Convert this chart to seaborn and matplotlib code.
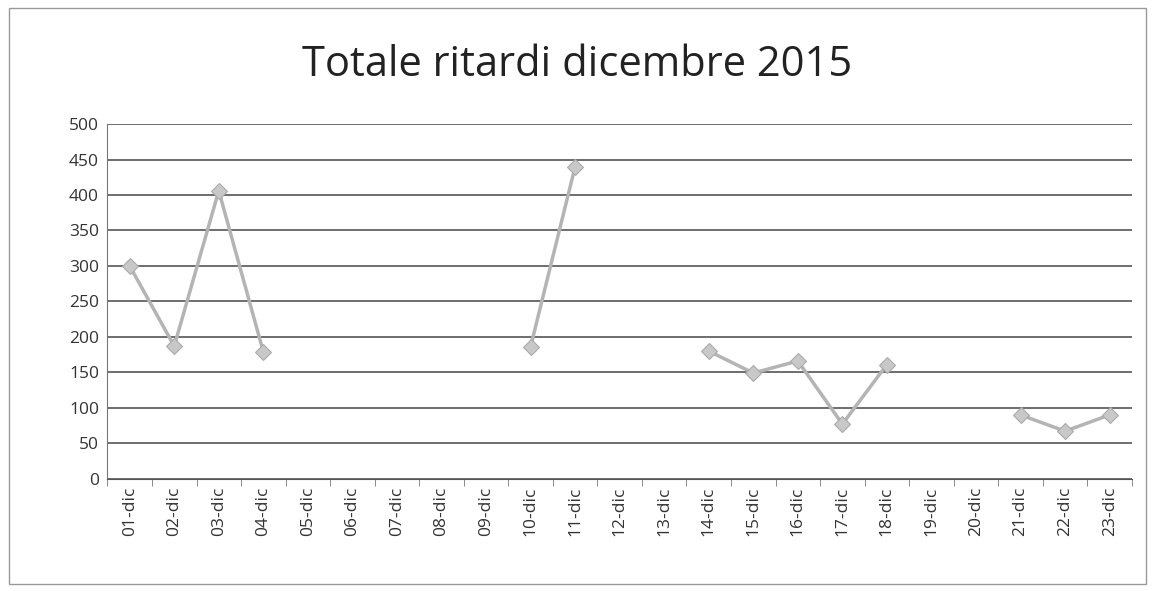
import numpy as np
import pandas as pd
import seaborn as sns
import matplotlib.pyplot as plt

# dati (NaN = giorno senza valore)
giorni = ["01-dic", "02-dic", "03-dic", "04-dic", "05-dic", "06-dic", "07-dic", "08-dic",
          "09-dic", "10-dic", "11-dic", "12-dic", "13-dic", "14-dic", "15-dic", "16-dic",
          "17-dic", "18-dic", "19-dic", "20-dic", "21-dic", "22-dic", "23-dic"]
ritardi = [300, 187, 406, 179, np.nan, np.nan, np.nan, np.nan,
           np.nan, 186, 440, np.nan, np.nan, 180, 149, 166,
           77, 161, np.nan, np.nan, 90, 67, 90]

df = pd.DataFrame({"pos": np.arange(len(giorni)), "giorno": giorni, "ritardi": ritardi})
# segmenti contigui, così la linea si interrompe dove mancano i dati
df["seg"] = df["ritardi"].isna().cumsum()
df = df.dropna()

sns.set_style("white")
plt.rcParams['font.family'] = ['Open Sans', 'DejaVu Sans']

fig, ax = plt.subplots(figsize=(11.55, 5.91), dpi=100)
fig.subplots_adjust(left=0.093, right=0.98, top=0.79, bottom=0.19)

sns.lineplot(data=df, x="pos", y="ritardi", units="seg", estimator=None, ax=ax,
             color="#b4b4b4", linewidth=2.5, marker="D", markersize=8,
             markeredgecolor="#a8a8a8", markerfacecolor="#c8c8c8")

ax.set_xlim(-0.5, len(giorni) - 0.5)
ax.set_ylim(0, 500)
ax.set_yticks(range(0, 501, 50))
ax.set_xticks(range(len(giorni)))
ax.set_xticklabels(giorni, rotation=90)
ax.tick_params(axis="both", labelsize=12.5, colors="#333333", length=0, pad=6)
ax.set_xticks(np.arange(-0.5, len(giorni), 1), minor=True)
ax.tick_params(axis="x", which="minor", length=5, color="#777777", bottom=True)
ax.tick_params(axis="x", which="major", length=0)
ax.grid(axis="y", color="#555555", linewidth=1.2)
ax.set_axisbelow(True)
ax.set_xlabel("")
ax.set_ylabel("")
for s in ["top", "right"]:
    ax.spines[s].set_visible(False)
ax.spines["left"].set_color("#777777")
ax.spines["bottom"].set_color("#555555")

fig.suptitle("Totale ritardi dicembre 2015", fontsize=30, color="#222222", y=0.925)

# bordo dell'area del grafico
fig.patches.append(plt.Rectangle((0.008, 0.012), 0.984, 0.975, transform=fig.transFigure,
                                 fill=False, edgecolor="#999999", linewidth=1))

plt.savefig("out.png", dpi=100)
